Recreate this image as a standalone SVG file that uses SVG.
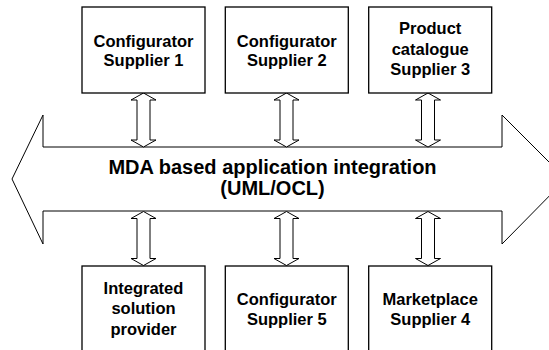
<svg xmlns="http://www.w3.org/2000/svg" width="549" height="350" viewBox="0 0 549 350">
  <style>
    .box { fill: #fff; stroke: #000; stroke-width: 1.3; }
    .band { fill: #fff; stroke: #000; stroke-width: 1; }
    .dbl { fill: #fff; stroke: #000; stroke-width: 1; stroke-linejoin: miter; }
    .lbl { font-family: "Liberation Sans", Arial, sans-serif; font-weight: bold; font-size: 16.5px; fill: #000; text-anchor: middle; }
    .big { font-size: 20px; }
  </style>
  <defs>
    <!-- double-headed hollow arrow, 54 px long, pointing up and down -->
    <path id="dblArrow" d="M0,0 L12.5,7 L6.5,7 L6.5,47 L12.5,47 L0,54 L-12.5,47 L-6.5,47 L-6.5,7 L-12.5,7 Z"/>
  </defs>

  <rect width="549" height="350" fill="#fff"/>

  <!-- central integration band: wide double-headed arrow -->
  <g id="band">
    <path class="band" d="M43,147 L43,115 L12,179 L43,244 L43,211 L502,211 L502,244 L566,179 L502,115 L502,147 Z"/>
    <text class="lbl big" x="272.5" y="174">MDA based application integration</text>
    <text class="lbl big" x="272.5" y="195">(UML/OCL)</text>
  </g>

  <g id="connectors">
    <use href="#dblArrow" class="dbl" x="143.5" y="93"/>
    <use href="#dblArrow" class="dbl" x="286.5" y="93"/>
    <use href="#dblArrow" class="dbl" x="428" y="93"/>
    <use href="#dblArrow" class="dbl" x="143.5" y="211.5"/>
    <use href="#dblArrow" class="dbl" x="286.5" y="211.5"/>
    <use href="#dblArrow" class="dbl" x="428" y="211.5"/>
  </g>

  <g id="supplier1">
    <rect class="box" x="82" y="7" width="123" height="86"/>
    <text class="lbl" x="143.5" y="47">Configurator</text>
    <text class="lbl" x="143.5" y="66">Supplier 1</text>
  </g>
  <g id="supplier2">
    <rect class="box" x="225.3" y="7" width="123" height="86"/>
    <text class="lbl" x="286.8" y="47">Configurator</text>
    <text class="lbl" x="286.8" y="66">Supplier 2</text>
  </g>
  <g id="supplier3">
    <rect class="box" x="368.7" y="7" width="123" height="86"/>
    <text class="lbl" x="430.2" y="34">Product</text>
    <text class="lbl" x="430.2" y="54.5">catalogue</text>
    <text class="lbl" x="430.2" y="75">Supplier 3</text>
  </g>

  <g id="integrator">
    <rect class="box" x="82" y="266" width="123" height="90"/>
    <text class="lbl" x="143.5" y="293.5">Integrated</text>
    <text class="lbl" x="143.5" y="314">solution</text>
    <text class="lbl" x="143.5" y="334.5">provider</text>
  </g>
  <g id="supplier5">
    <rect class="box" x="225.3" y="266" width="123" height="90"/>
    <text class="lbl" x="286.8" y="305">Configurator</text>
    <text class="lbl" x="286.8" y="325">Supplier 5</text>
  </g>
  <g id="supplier4">
    <rect class="box" x="368.7" y="266" width="123" height="90"/>
    <text class="lbl" x="430.2" y="305">Marketplace</text>
    <text class="lbl" x="430.2" y="325">Supplier 4</text>
  </g>
</svg>
